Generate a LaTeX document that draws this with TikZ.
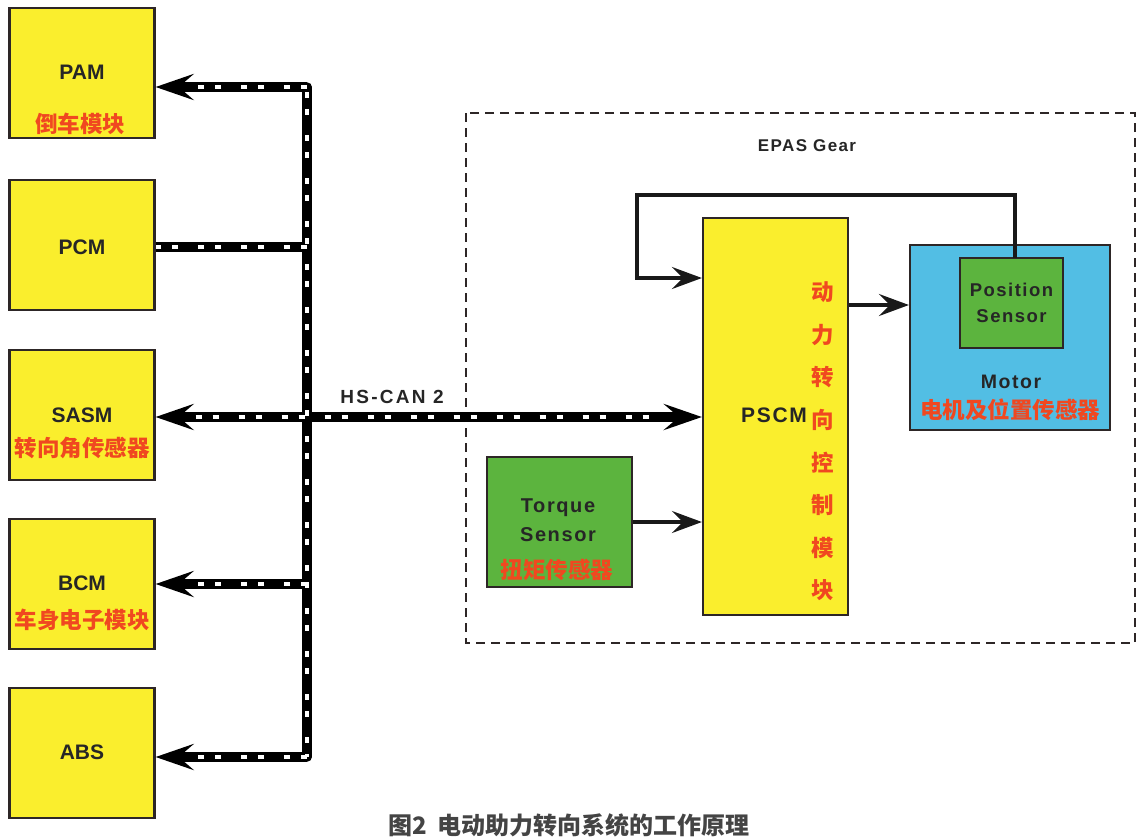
\documentclass[tikz,border=0pt]{standalone}
\usepackage{fontspec}
\setmainfont{Liberation Sans}
\newfontfamily\cjk{Noto Sans CJK SC}
\usetikzlibrary{arrows.meta,calc}
\definecolor{boxyellow}{RGB}{250,238,45}
\definecolor{boxgreen}{RGB}{92,180,62}
\definecolor{boxblue}{RGB}{82,190,228}
\definecolor{redtxt}{RGB}{240,72,32}
\definecolor{edge}{RGB}{45,38,38}
\definecolor{captxt}{RGB}{68,68,68}
\begin{document}
\begin{tikzpicture}[x=1pt,y=-1pt,
  modbox/.style={draw=edge,line width=2.2pt,fill=boxyellow,minimum width=145pt,minimum height=130pt,inner sep=0pt},
  greenbox/.style={draw=edge,line width=2.2pt,fill=boxgreen,inner sep=0pt},
  bluebox/.style={draw=edge,line width=2.2pt,fill=boxblue,inner sep=0pt},
  entxt/.style={font=\bfseries\fontsize{21}{23}\selectfont,text=black!85},
  wide/.style={font=\bfseries\fontsize{#1}{22}\selectfont\addfontfeatures{LetterSpace=8},text=black!85},
  cntxt/.style={font=\cjk\bfseries\fontsize{22.5}{24}\selectfont,text=redtxt},
  busblack/.style={draw=black,line width=9.5pt},
  buswhite/.style={draw=white,line width=3.5pt,dash pattern=on 6pt off 11pt on 6pt off 20pt},
  bustip/.style={-{Stealth[length=38pt,width=26pt,inset=15pt]}},
  thinarrow/.style={draw=black!90,line width=3.8pt,-{Stealth[length=30pt,width=22pt,inset=11pt]}}
]
\useasboundingbox (0,0) rectangle (1148,839);
\fill[white] (0,0) rectangle (1148,839);

% left modules
\node[modbox] (pam) at (82,73) {};
\node[modbox] (pcm) at (82,245) {};
\node[modbox] (sasm) at (82,415) {};
\node[modbox] (bcm) at (82,584) {};
\node[modbox] (abs) at (82,753) {};
\node[entxt] (tpam) at (82,72) {PAM};
\node[cntxt] (cpam) at (80,124) {倒车模块};
\node[entxt] (tpcm) at (82,247) {PCM};
\node[entxt] (tsasm) at (82,415) {SASM};
\node[cntxt] (csasm) at (82,448) {转向角传感器};
\node[entxt] (tbcm) at (82,583) {BCM};
\node[cntxt] (cbcm) at (82,620) {车身电子模块};
\node[entxt] (tabs) at (82,752) {ABS};

% EPAS gear frame
\draw[edge,line width=1.6pt,dash pattern=on 9pt off 6pt] (466,113) rectangle (1135,643);
\node[wide=17] (epas) at (807,146) {EPAS Gear};

% PSCM
\node[modbox,minimum width=145pt,minimum height=397pt] (pscm) at (775.5,416.5) {};
\node[wide=21] (tpscm) at (774,415) {PSCM};
\foreach \c [count=\i from 0] in {动,力,转,向,控,制,模,块}
  \node[cntxt] (v\i) at (823,{292+\i*42.6}) {\c};

% Motor
\node[bluebox,minimum width=200pt,minimum height=185pt] (motor) at (1010,337.5) {};
\node[greenbox,minimum width=103pt,minimum height=90pt] (pos) at (1011.5,303) {};
\node[wide=18.5] (tpos1) at (1011.5,290) {Position};
\node[wide=18.5] (tpos2) at (1011.5,316) {Sensor};
\node[wide=19.5] (tmotor) at (1011,382) {Motor};
\node[cntxt] (cmotor) at (1010,410) {电机及位置传感器};

% Torque sensor
\node[greenbox,minimum width=145pt,minimum height=130pt] (torque) at (559.5,522) {};
\node[wide=20] (ttorque1) at (558,508) {Torque};
\node[wide=20] (ttorque2) at (558,535) {Sensor};
\node[cntxt] (ctorque) at (557,570) {扭矩传感器};

% CAN bus
\coordinate (bt) at (307,87);
\coordinate (bb) at (307,757);
\coordinate (hs) at (307,417);
\coordinate (hp) at (307,247);
\coordinate (hb) at (307,584);
\draw[busblack,bustip,rounded corners=5pt] (bt) -- (pam.east|-bt);
\draw[busblack,bustip,rounded corners=5pt] (bb) -- (abs.east|-bb);
\draw[busblack,line cap=round] (bt) -- (bb);
\draw[busblack] (hp) -- (pcm.east|-hp);
\draw[busblack,bustip] (hb) -- (bcm.east|-hb);
\draw[busblack,{Stealth[length=38pt,width=26pt,inset=15pt]}-{Stealth[length=38pt,width=26pt,inset=15pt]}] (sasm.east|-hs) -- (pscm.west|-hs);
\draw[buswhite] (307,92) -- (bb);
\draw[buswhite,shorten >=40pt] (bt) -- (pam.east|-bt);
\draw[buswhite,shorten >=40pt] (bb) -- (abs.east|-bb);
\draw[buswhite] (hp) -- (pcm.east|-hp);
\draw[buswhite,shorten >=40pt] (hb) -- (bcm.east|-hb);
\draw[buswhite,shorten >=40pt,shorten <=40pt] (sasm.east|-hs) -- (pscm.west|-hs);
\node[font=\bfseries\fontsize{19}{21}\selectfont\addfontfeatures{LetterSpace=12},text=black!85] (hscan) at (392,397) {HS-CAN 2};

% signal arrows
\coordinate (fbl) at (637,195);
\coordinate (fbin) at (pscm.west |- 0,278);
\draw[thinarrow] (1015,258) |- (fbl) |- (fbin);
\draw[thinarrow] (pscm.east |- 0,305) -- (motor.west |- 0,305);
\draw[thinarrow] (torque.east) -- (pscm.west |- torque.east);

% caption
\node[font=\cjk\bfseries\fontsize{24}{26}\selectfont,text=captxt] (caption) at (569,825) {图2\ \ 电动助力转向系统的工作原理};
\end{tikzpicture}
\end{document}
